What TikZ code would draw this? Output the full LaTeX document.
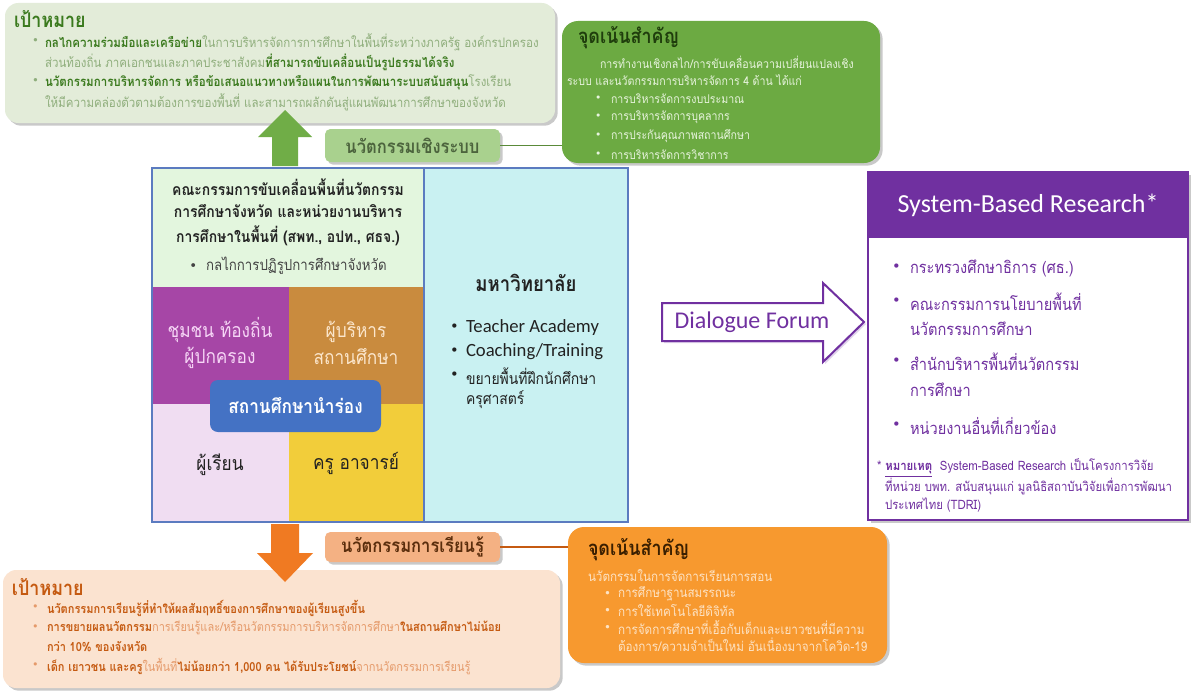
\documentclass[tikz,border=0pt]{standalone}
\usepackage{fontspec}
\setmainfont[Script=Thai, FakeStretch=0.88, Scale=1.13]{Loma}
\newfontfamily\carl{Carlito}
\newfontfamily\dvs{DejaVu Sans}
\usetikzlibrary{shadows,fit}
\newcommand\bul{{\dvs\char"2022}}
\definecolor{ggoal}{HTML}{E3ECD9}
\definecolor{gdark}{HTML}{3B7A1E}
\definecolor{glight}{HTML}{8FAE7C}
\definecolor{garrow}{HTML}{70AD47}
\definecolor{glabel}{HTML}{A9D18E}
\definecolor{gfocus}{HTML}{6CAA42}
\definecolor{gftitle}{HTML}{1F3D0C}
\definecolor{gftext}{HTML}{E8F4DE}
\definecolor{commg}{HTML}{E3F6DE}
\definecolor{purq}{HTML}{A646A6}
\definecolor{purqt}{HTML}{F6D6F6}
\definecolor{brnq}{HTML}{C98B3E}
\definecolor{brnqt}{HTML}{FBE6CC}
\definecolor{pnkq}{HTML}{F0DDF2}
\definecolor{yelq}{HTML}{F2CD3A}
\definecolor{pilot}{HTML}{4472C4}
\definecolor{cyanu}{HTML}{C9F1F2}
\definecolor{frame}{HTML}{5B7BC0}
\definecolor{purp}{HTML}{7030A0}
\definecolor{oarrow}{HTML}{F07A22}
\definecolor{olabel}{HTML}{F4B183}
\definecolor{olabt}{HTML}{5A2D0C}
\definecolor{ofocus}{HTML}{F7992F}
\definecolor{oftitle}{HTML}{3A1F00}
\definecolor{oftext}{HTML}{FDE3C5}
\definecolor{pgoal}{HTML}{FBE3D0}
\definecolor{odark}{HTML}{C55A11}
\definecolor{olight}{HTML}{E59A6A}
\definecolor{darktxt}{HTML}{222222}
\tikzset{
  area/.style={fit={#1}, inner sep=0pt, outer sep=0pt},
  tl/.style={anchor=west, inner sep=0pt, outer sep=0pt},
  tc/.style={anchor=center, inner sep=0pt, outer sep=0pt},
  shad/.style={drop shadow={shadow xshift=2pt, shadow yshift=-2pt, opacity=0.35, fill=black!60}},
  goalf/.style={font=\fontsize{8.7}{10}\selectfont},
  goalbf/.style={font=\fontsize{8.3}{10}\selectfont},
  titlef/.style={font=\fontsize{13.5}{15}\selectfont\bfseries},
  focusf/.style={font=\fontsize{8}{10}\selectfont},
  ofocusf/.style={font=\fontsize{8.8}{10}\selectfont},
  quadf/.style={font=\fontsize{13}{15}\selectfont},
  sbrf/.style={font=\fontsize{11}{13}\selectfont, text=purp},
  notef/.style={font=\fontsize{8.6}{10}\selectfont, text=purp},
}
\begin{document}
\begin{tikzpicture}[x=0.75pt,y=-0.75pt]
\useasboundingbox[fill=white] (0,0) rectangle (1191,692);

% ---------- top goal box ----------
\node[area={(5,3)(555,123)}, fill=ggoal, rounded corners=10pt, shad] (goaltop) {};
\node[tl, titlef, text=gdark] (gtt) at (14,19) {เป้าหมาย};
\begin{scope}[goalf]
\node[tl, text=glight] (gb1) at (32,42) {\bul};
\node[tl, text=glight] (gl1) at (45,42) {{\bfseries\color{gdark}กลไกความร่วมมือและเครือข่าย}ในการบริหารจัดการการศึกษาในพื้นที่ระหว่างภาครัฐ องค์กรปกครอง};
\node[tl, text=glight] (gl2) at (45,62) {ส่วนท้องถิ่น ภาคเอกชนและภาคประชาสังคม{\bfseries\color{gdark}ที่สามารถขับเคลื่อนเป็นรูปธรรมได้จริง}};
\node[tl, text=glight] (gb3) at (32,82) {\bul};
\node[tl, text=glight] (gl3) at (45,82) {{\bfseries\color{gdark}นวัตกรรมการบริหารจัดการ หรือข้อเสนอแนวทางหรือแผนในการพัฒนาระบบสนับสนุน}โรงเรียน};
\node[tl, text=glight] (gl4) at (45,102) {ให้มีความคล่องตัวตามต้องการของพื้นที่ และสามารถผลักดันสู่แผนพัฒนาการศึกษาของจังหวัด};
\end{scope}

% ---------- green focus box ----------
\node[area={(562,21)(880,163)}, fill=gfocus, rounded corners=12pt, shad] (focusg) {};
\node[tl, titlef, text=gftitle] (fgt) at (578,38) {จุดเน้นสำคัญ};
\begin{scope}[focusf, text=gftext]
\node[tl] (fg1) at (600,62) {การทำงานเชิงกลไก/การขับเคลื่อนความเปลี่ยนแปลงเชิง};
\node[tl] (fg2) at (567,80) {ระบบ และนวัตกรรมการบริหารจัดการ 4 ด้าน ได้แก่};
\node[tl] (fgb1) at (595,99) {\bul};
\node[tl] (fg3) at (611,99) {การบริหารจัดการงบประมาณ};
\node[tl] (fgb2) at (595,117) {\bul};
\node[tl] (fg4) at (611,117) {การบริหารจัดการบุคลากร};
\node[tl] (fgb3) at (595,136) {\bul};
\node[tl] (fg5) at (611,136) {การประกันคุณภาพสถานศึกษา};
\node[tl] (fgb4) at (595,155) {\bul};
\node[tl] (fg6) at (611,155) {การบริหารจัดการวิชาการ};
\end{scope}

% ---------- central block ----------
\node[area={(152,168)(424,287)}, fill=commg] (comm) {};
\node[area={(152,287)(289,404)}, fill=purq] (qpur) {};
\node[area={(289,287)(424,404)}, fill=brnq] (qbrn) {};
\node[area={(152,404)(289,522)}, fill=pnkq] (qpnk) {};
\node[area={(289,404)(424,522)}, fill=yelq] (qyel) {};
\node[area={(424,168)(628,522)}, fill=cyanu] (univ) {};
\node[area={(152,168)(628,522)}, draw=frame, line width=0.8pt] (frame) {};
\draw[frame, line width=0.8pt] (univ.north west) -- (univ.south west);

\begin{scope}[font=\fontsize{10.5}{12}\selectfont\bfseries, text=darktxt]
\node[tc] (c1) at (288,187) {คณะกรรมการขับเคลื่อนพื้นที่นวัตกรรม};
\node[tc] (c2) at (288,211) {การศึกษาจังหวัด และหน่วยงานบริหาร};
\node[tc] (c3) at (288,236) {การศึกษาในพื้นที่ (สพท., อปท., ศธจ.)};
\end{scope}
\node[tc, font=\fontsize{10}{12}\selectfont, text=darktxt!85] (c4) at (288,266) {\bul\ \ กลไกการปฏิรูปการศึกษาจังหวัด};

\node[tc, quadf, text=purqt, align=center] (tpur) at (220,343) {ชุมชน ท้องถิ่น\\[3pt]ผู้ปกครอง};
\node[tc, quadf, text=brnqt, align=center] (tbrn) at (356,343) {ผู้บริหาร\\[3pt]สถานศึกษา};
\node[tc, quadf, text=darktxt] (tpnk) at (220,465) {ผู้เรียน};
\node[tc, quadf, text=darktxt] (tyel) at (356,463) {ครู อาจารย์};
\node[area={(210,380)(381,432)}, fill=pilot, rounded corners=6pt] (pilot) {};
\node[tc, font=\fontsize{13}{15}\selectfont\bfseries, text=white] (tpilot) at (pilot.center) {สถานศึกษานำร่อง};

\node[tc, font=\fontsize{14}{16}\selectfont\bfseries, text=darktxt] (tuni) at (526,283) {มหาวิทยาลัย};
\node[tl, font=\fontsize{11}{13}\selectfont, text=darktxt] (ub1) at (450,328) {\bul};
\node[tl, font=\carl\fontsize{14}{16}\selectfont, text=darktxt] (u1) at (466,328) {Teacher Academy};
\node[tl, font=\fontsize{11}{13}\selectfont, text=darktxt] (ub2) at (450,352) {\bul};
\node[tl, font=\carl\fontsize{14}{16}\selectfont, text=darktxt] (u2) at (466,352) {Coaching/Training};
\node[tl, font=\fontsize{11}{13}\selectfont, text=darktxt] (ub3) at (450,376) {\bul};
\node[tl, font=\fontsize{10.5}{12}\selectfont, text=darktxt] (u3) at (466,376) {ขยายพื้นที่ฝึกนักศึกษา};
\node[tl, font=\fontsize{10.5}{12}\selectfont, text=darktxt] (u4) at (466,400) {ครุศาสตร์};

% ---------- arrows up / down ----------
\fill[garrow] (272,166) -- (272,137) -- (258,137) -- (285,110) -- (312,137) -- (298,137) -- (298,166) -- cycle;
\node[area={(325,129)(500,162)}, fill=glabel, rounded corners=4pt, shad] (labg) {};
\node[tc, font=\fontsize{12.5}{14}\selectfont\bfseries, text=gftitle!80] (tlabg) at (labg.center) {นวัตกรรมเชิงระบบ};
\draw[garrow!80!black, line width=0.9pt] (labg.east) -- (labg.east -| focusg.west);

% ---------- bottom goal box ----------
\node[area={(3,570)(560,688)}, fill=pgoal, rounded corners=10pt, shad] (goalbot) {};
\fill[oarrow] (271,524) -- (271,553) -- (257,553) -- (285,582) -- (313,553) -- (299,553) -- (299,524) -- cycle;
\node[area={(325,532)(500,562)}, fill=olabel, rounded corners=4pt, shad] (labo) {};
\node[tc, font=\fontsize{12.5}{14}\selectfont\bfseries, text=olabt] (tlabo) at (labo.center) {นวัตกรรมการเรียนรู้};

\node[area={(568,527)(887,663)}, fill=ofocus, rounded corners=12pt, shad] (focuso) {};
\draw[odark, line width=0.9pt] (labo.east) -- (labo.east -| focuso.west);
\node[tl, titlef, text=oftitle] (fot) at (588,550) {จุดเน้นสำคัญ};
\begin{scope}[ofocusf, text=oftext]
\node[tl] (fo1) at (588,576) {นวัตกรรมในการจัดการเรียนการสอน};
\node[tl] (fob1) at (604,594) {\bul};
\node[tl] (fo2) at (618,594) {การศึกษาฐานสมรรถนะ};
\node[tl] (fob2) at (604,611) {\bul};
\node[tl] (fo3) at (618,611) {การใช้เทคโนโลยีดิจิทัล};
\node[tl] (fob3) at (604,628) {\bul};
\node[tl] (fo4) at (618,628) {การจัดการศึกษาที่เอื้อกับเด็กและเยาวชนที่มีความ};
\node[tl] (fo5) at (618,645) {ต้องการ/ความจำเป็นใหม่ อันเนื่องมาจากโควิด-19};
\end{scope}

\node[tl, titlef, text=odark] (gbt) at (12,587) {เป้าหมาย};
\begin{scope}[goalbf]
\node[tl, text=olight] (ob1) at (32,608) {\bul};
\node[tl, text=olight] (ol1) at (47,608) {{\bfseries\color{odark}นวัตกรรมการเรียนรู้ที่ทำให้ผลสัมฤทธิ์ของการศึกษาของผู้เรียนสูงขึ้น}};
\node[tl, text=olight] (ob2) at (32,628) {\bul};
\node[tl, text=olight] (ol2) at (47,628) {{\bfseries\color{odark}การขยายผลนวัตกรรม}การเรียนรู้และ/หรือนวัตกรรมการบริหารจัดการศึกษา{\bfseries\color{odark}ในสถานศึกษาไม่น้อย}};
\node[tl, text=olight] (ol3) at (47,647) {{\bfseries\color{odark}กว่า 10\% ของจังหวัด}};
\node[tl, text=olight] (ob4) at (32,666) {\bul};
\node[tl, text=olight] (ol4) at (47,666) {{\bfseries\color{odark}เด็ก เยาวชน และครู}ในพื้นที่{\bfseries\color{odark}ไม่น้อยกว่า 1,000 คน ได้รับประโยชน์}จากนวัตกรรมการเรียนรู้};
\end{scope}

% ---------- Dialogue Forum arrow ----------
\draw[purp, line width=1.5pt, fill=white, line join=miter,
      drop shadow={shadow xshift=1.5pt, shadow yshift=-1.5pt, opacity=0.35, fill=purp!60}]
  (662,303) -- (823,303) -- (823,283) -- (864,322) -- (823,362) -- (823,341) -- (662,341) -- cycle;
\node[tc, font=\carl\fontsize{18}{20}\selectfont, text=purp] (dial) at (752,322) {Dialogue Forum};

% ---------- System-Based Research ----------
\node[area={(868,172)(1188,520)}, fill=white, draw=purp, line width=0.8pt, shad] (sbr) {};
\node[area={(868,172)(1188,238)}, fill=purp] (sbrh) {};
\node[tc, font=\carl\fontsize{19.5}{21}\selectfont, text=white] (sbrt) at (sbrh.center) {System-Based Research*};
\begin{scope}[sbrf]
\node[tl] (sb1) at (892,268) {\bul};
\node[tl] (s1) at (910,268) {กระทรวงศึกษาธิการ (ศธ.)};
\node[tl] (sb2) at (892,302) {\bul};
\node[tl] (s2) at (910,302) {คณะกรรมการนโยบายพื้นที่};
\node[tl] (s3) at (910,329) {นวัตกรรมการศึกษา};
\node[tl] (sb4) at (892,362) {\bul};
\node[tl] (s4) at (910,362) {สำนักบริหารพื้นที่นวัตกรรม};
\node[tl] (s5) at (910,390) {การศึกษา};
\node[tl] (sb6) at (892,426) {\bul};
\node[tl] (s6) at (910,426) {หน่วยงานอื่นที่เกี่ยวข้อง};
\end{scope}
\begin{scope}[notef]
\node[tl] (n1) at (877,468) {* \textbf{\underline{หมายเหตุ}}\ \ System-Based Research เป็นโครงการวิจัย};
\node[tl] (n2) at (885,487) {ที่หน่วย บพท. สนับสนุนแก่ มูลนิธิสถาบันวิจัยเพื่อการพัฒนา};
\node[tl] (n3) at (885,505) {ประเทศไทย (TDRI)};
\end{scope}
\end{tikzpicture}
\end{document}
